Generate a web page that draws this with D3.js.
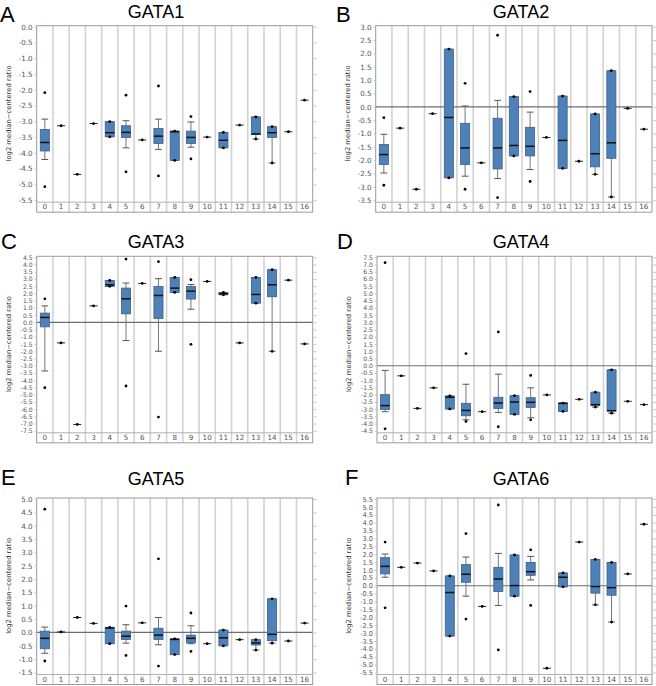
<!DOCTYPE html>
<html><head><meta charset="utf-8">
<script src="https://cdn.jsdelivr.net/npm/d3@7"></script>
<style>body{margin:0;background:#fff}svg{display:block}</style>
</head><body>
<svg id="c" width="656" height="686"></svg>
<script>
const categories = ["0","1","2","3","4","5","6","7","8","9","10","11","12","13","14","15","16"];

// box rows: [whiskerLow, q1, median, q3, whiskerHigh]; a plain number = single sample
const gata1Box = [[-4.21,-3.94,-3.67,-3.26,-2.93],-3.14,-4.68,-3.07,[-3.49,-3.49,-3.36,-3.01,-3.01],[-3.84,-3.51,-3.35,-3.14,-2.98],-3.59,[-3.89,-3.70,-3.47,-3.23,-2.93],[-4.24,-4.24,-3.33,-3.31,-3.31],[-3.82,-3.70,-3.51,-3.31,-3.02],-3.50,[-3.84,-3.84,-3.60,-3.35,-3.35],-3.12,[-3.56,-3.42,-3.40,-2.86,-2.86],[-4.32,-3.51,-3.36,-3.17,-3.17],-3.33,-2.33];
const gata1Pts = [[-2.09,-5.07],[],[],[],[-3.01,-3.49],[-2.17,-4.60],[],[-1.88,-4.73],[-3.31,-4.24],[-2.85,-4.19],[],[-3.35,-3.84],[],[-2.86,-3.56],[-3.17,-4.32],[],[]];

const gata2Box = [[-2.48,-2.16,-1.79,-1.41,-1.03],-0.80,-3.09,-0.26,[-2.66,-2.66,-0.40,2.16,2.16],[-2.60,-2.16,-1.54,-0.62,0.03],-2.10,[-2.69,-2.33,-1.54,-0.43,0.24],[-1.84,-1.84,-1.45,0.38,0.38],[-2.35,-1.84,-1.48,-0.77,-0.20],-1.15,[-2.31,-2.31,-1.26,0.40,0.40],-2.04,[-2.53,-2.25,-1.76,-0.27,-0.27],[-3.38,-1.93,-1.35,1.35,1.35],-0.06,-0.84];
const gata2Pts = [[-0.41,-2.94],[],[],[],[2.16,-2.66],[0.88,-3.09],[],[2.68,-3.40],[0.38,-1.84],[0.57,-2.80],[],[0.40,-2.31],[],[-0.27,-2.53],[1.35,-3.38],[],[]];

const gata3Box = [[-3.36,-0.31,0.34,0.64,1.14],-1.42,-7.06,1.14,[2.49,2.49,2.60,2.90,2.90],[-1.26,0.59,1.63,2.37,2.72],2.69,[-2.00,0.27,1.86,2.49,3.02],[2.07,2.07,2.37,3.11,3.11],[0.91,1.61,2.16,2.49,2.62],2.83,[1.91,1.91,1.98,2.07,2.07],-1.42,[1.33,1.33,1.93,3.11,3.11],[-2.00,1.77,2.60,3.64,3.64],2.92,-1.49];
const gata3Pts = [[1.63,-4.52],[],[],[],[2.90,2.49],[4.38,-4.40],[],[4.20,-6.55],[3.11,2.07],[2.95,-1.52],[],[2.07,1.91],[],[3.11,1.33],[3.64,-2.00],[],[]];

const gata4Box = [[-3.18,-3.02,-2.76,-2.00,-0.32],-0.70,-2.95,-1.53,[-2.99,-2.99,-2.18,-2.09,-2.09],[-3.74,-3.46,-3.09,-2.60,-1.28],-3.18,[-3.23,-2.95,-2.58,-2.18,-0.58],[-3.37,-3.37,-2.51,-2.07,-2.07],[-3.60,-2.88,-2.53,-2.21,-1.53],-2.02,[-3.16,-3.16,-2.60,-2.58,-2.58],-2.32,[-2.86,-2.76,-2.69,-1.83,-1.83],[-3.28,-3.13,-3.11,-0.28,-0.28],-2.46,-2.69];
const gata4Pts = [[7.13,-4.36],[],[],[],[-2.09,-2.99],[0.84,-3.85],[],[2.34,-4.22],[-2.07,-3.37],[-0.67,-3.74],[],[-2.58,-3.16],[],[-1.83,-2.86],[-0.28,-3.28],[],[]];

const gata5Box = [[-0.78,-0.61,-0.22,0.05,0.20],0.02,0.56,0.34,[-0.42,-0.42,0.17,0.19,0.19],[-0.40,-0.26,-0.14,0.05,0.29],0.36,[-0.46,-0.26,-0.10,0.16,0.56],[-0.83,-0.83,-0.26,-0.24,-0.24],[-0.42,-0.39,-0.22,-0.10,0.25],-0.42,[-0.50,-0.50,-0.20,0.09,0.09],-0.27,[-0.66,-0.47,-0.39,-0.27,-0.27],[-0.40,-0.31,-0.07,1.26,1.26],-0.32,0.35];
const gata5Pts = [[4.62,-1.07],[],[],[],[0.19,-0.42],[0.99,-0.86],[],[2.76,-1.26],[-0.24,-0.83],[0.73,-0.71],[],[0.09,-0.50],[],[-0.27,-0.66],[1.26,-0.40],[],[]];

const gata6Box = [[0.54,0.75,1.23,1.78,2.01],1.17,1.44,0.94,[-3.19,-3.19,-0.43,0.62,0.62],[-0.66,0.22,0.73,1.34,1.82],-1.31,[-1.25,-0.37,0.43,1.17,2.05],[-0.66,-0.66,0.01,1.95,1.95],[0.37,0.66,0.89,1.48,1.86],-5.23,[-0.07,-0.07,0.54,0.81,0.81],2.77,[-1.21,-0.47,-0.05,1.67,1.67],[-2.30,-0.60,-0.12,1.48,1.48],0.75,3.90];
const gata6Pts = [[2.77,-1.40],[],[],[],[0.62,-3.19],[3.31,-2.11],[],[5.12,-4.07],[1.95,-0.66],[2.28,-1.25],[],[0.81,-0.07],[],[1.67,-1.21],[1.48,-2.30],[],[]];

const titles = ["GATA1","GATA2","GATA3","GATA4","GATA5","GATA6"];
const letters = ["A","B","C","D","E","F"];
const yMax = [0.0, 3.0, 4.5, 7.5, 5.0, 5.5];
const yMin = [-5.5, -3.5, -7.5, -4.5, -1.5, -5.5];

const boxes = [gata1Box,gata2Box,gata3Box,gata4Box,gata5Box,gata6Box];
const points = [gata1Pts,gata2Pts,gata3Pts,gata4Pts,gata5Pts,gata6Pts];

// layout
const layout = [
  {x0:36.7, x1:312.7, top:26.7, lx:0,   ly:22,  tx:156, ty:18, fs:7.2},
  {x0:375.7,x1:652,   top:26.7, lx:336, ly:22,  tx:521, ty:18, fs:7.2},
  {x0:36.7, x1:312.7, top:257.3,lx:1,   ly:249, tx:156, ty:248, fs:6.1},
  {x0:377,  x1:652,   top:257.3,lx:337, ly:249, tx:521, ty:248, fs:6.1},
  {x0:36.7, x1:312.7, top:499,  lx:1,   ly:485, tx:156, ty:485, fs:7.2},
  {x0:377,  x1:652,   top:499,  lx:345, ly:485, tx:521, ty:485, fs:6.6}
];
const H = 173.5;

const svg = d3.select("#c");
const fmt = v => d3.format(".1f")(v).replace("\u2212","-");

layout.forEach((L, p) => {
  const g = svg.append("g");
  const y = d3.scaleLinear().domain([yMin[p], yMax[p]]).range([L.top + H, L.top]);
  const x = d3.scaleBand().domain(categories).range([L.x0, L.x1]).padding(0);
  const frameTop = L.top - 1;
  const plotBot = L.top + H + 2;
  const labBot = plotBot + 10;
  const nT = Math.round((yMax[p]-yMin[p])/0.5);
  const ticks = d3.range(nT+1).map(i => +(yMin[p] + i*0.5).toFixed(1));

  // letter and title
  g.append("text").attr("x", L.lx).attr("y", L.ly).text(letters[p])
    .attr("font-family","Liberation Sans, Arial, sans-serif").attr("font-size",22).attr("fill","#000");
  g.append("text").attr("x", L.tx).attr("y", L.ty).attr("text-anchor","middle").text(titles[p])
    .attr("font-family","Liberation Sans, Arial, sans-serif").attr("font-size",18).attr("fill","#000");

  // vertical separators
  categories.slice(1).forEach(c => {
    g.append("line").attr("x1", x(c)).attr("x2", x(c)).attr("y1", frameTop).attr("y2", labBot)
      .attr("stroke","#d2d2d2").attr("stroke-width",1.6);
  });

  // zero line
  if (yMin[p] < 0 && yMax[p] > 0) {
    g.append("line").attr("x1", L.x0).attr("x2", L.x1).attr("y1", y(0)).attr("y2", y(0))
      .attr("stroke","#6e6e6e").attr("stroke-width",1.2);
  }

  // frame
  g.append("rect").attr("x", L.x0).attr("y", frameTop).attr("width", L.x1-L.x0).attr("height", labBot-frameTop)
    .attr("fill","none").attr("stroke","#9a9a9a").attr("stroke-width",1);
  g.append("line").attr("x1", L.x0).attr("x2", L.x1).attr("y1", plotBot).attr("y2", plotBot)
    .attr("stroke","#b0b0b0").attr("stroke-width",1);

  // y axis
  const ya = g.append("g").attr("transform",`translate(${L.x0},0)`)
    .call(d3.axisLeft(y).tickValues(ticks).tickFormat(fmt).tickSize(2).tickPadding(2));
  ya.select(".domain").remove();
  ya.selectAll("line").attr("stroke","#bbb");
  ya.selectAll("text").attr("font-family","DejaVu Sans, sans-serif").attr("font-size",L.fs).attr("fill","#555");
  const yr = g.append("g").attr("transform",`translate(${L.x1},0)`)
    .call(d3.axisRight(y).tickValues(ticks).tickFormat("").tickSize(4));
  yr.select(".domain").remove();
  yr.selectAll("line").attr("stroke","#ccc");

  // x labels
  const xa = g.append("g").attr("transform",`translate(0,${plotBot})`)
    .call(d3.axisBottom(x).tickSize(0).tickPadding(2));
  xa.select(".domain").remove();
  xa.selectAll("text").attr("font-family","DejaVu Sans, sans-serif").attr("font-size",7.2).attr("fill","#555");

  // y title
  g.append("text").attr("transform",`translate(${L.x0-26},${L.top+H/2}) rotate(-90)`)
    .attr("text-anchor","middle").text("log2 median\u2212centered ratio")
    .attr("font-family","DejaVu Sans, sans-serif").attr("font-size",6.8).attr("fill","#333");

  const bw = x.bandwidth()*0.56;
  const cw = x.bandwidth()*0.42;
  boxes[p].forEach((d, i) => {
    const cx = x(categories[i]) + x.bandwidth()/2;
    if (typeof d === "number") {
      g.append("line").attr("x1", cx-4).attr("x2", cx+4).attr("y1", y(d)).attr("y2", y(d))
        .attr("stroke","#222").attr("stroke-width",1);
      g.append("circle").attr("cx", cx).attr("cy", y(d)).attr("r",1.4).attr("fill","#000");
      return;
    }
    const [lo,q1,md,q3,hi] = d;
    g.append("line").attr("x1",cx).attr("x2",cx).attr("y1",y(hi)).attr("y2",y(lo))
      .attr("stroke","#777").attr("stroke-width",1);
    [lo,hi].forEach(v => g.append("line").attr("x1",cx-cw/2).attr("x2",cx+cw/2).attr("y1",y(v)).attr("y2",y(v))
      .attr("stroke","#555").attr("stroke-width",1));
    g.append("rect").attr("x",cx-bw/2).attr("y",y(q3)).attr("width",bw).attr("height",Math.max(1,y(q1)-y(q3)))
      .attr("fill","#4f81b9").attr("stroke","#3b5f88").attr("stroke-width",0.8);
    g.append("line").attr("x1",cx-bw/2).attr("x2",cx+bw/2).attr("y1",y(md)).attr("y2",y(md))
      .attr("stroke","#111").attr("stroke-width",1.5);
  });
  points[p].forEach((arr, i) => {
    const cx = x(categories[i]) + x.bandwidth()/2;
    arr.forEach(v => g.append("circle").attr("cx",cx).attr("cy",y(v)).attr("r",1.4).attr("fill","#000"));
  });
});
</script>
</body></html>
